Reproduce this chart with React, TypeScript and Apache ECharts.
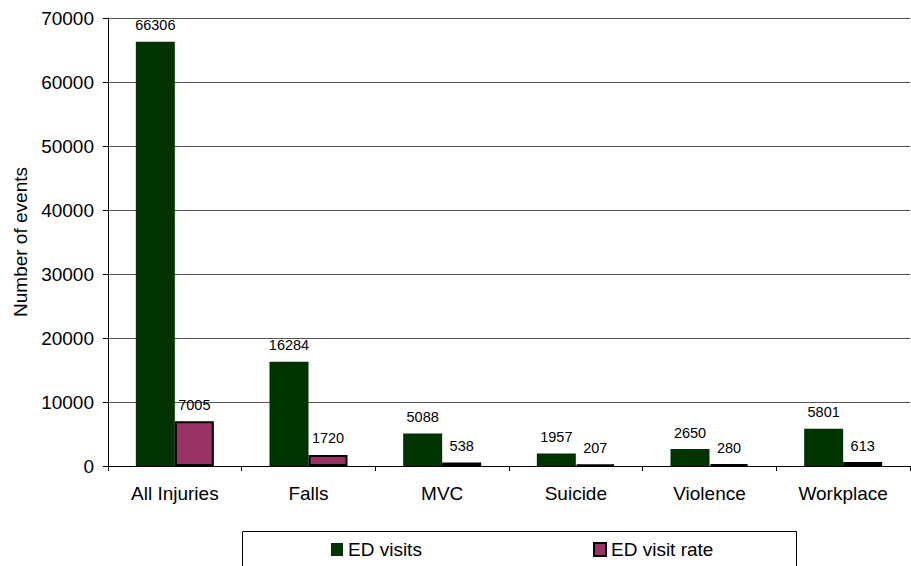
import React, { useEffect, useRef } from "react";
import * as echarts from "echarts";

// Injury categories and their counts
const categories = ["All Injuries", "Falls", "MVC", "Suicide", "Violence", "Workplace"];
const edVisits = [66306, 16284, 5088, 1957, 2650, 5801];
const edVisitRate = [7005, 1720, 538, 207, 280, 613];
const yTicks = { min: 0, max: 70000, interval: 10000 };

const FONT = "'Liberation Sans', Arial, sans-serif";

export default function App() {
  const ref = useRef<HTMLDivElement>(null);

  useEffect(() => {
    if (!ref.current) return;
    const chart = echarts.init(ref.current, null, { renderer: "svg" });
    const labelStyle = {
      show: true,
      position: "top" as const,
      distance: 9,
      color: "#000",
      fontFamily: FONT,
      fontSize: 14.5,
    };
    const legendText = { color: "#000", fontSize: 19, fontFamily: FONT };
    chart.setOption({
      animation: false,
      backgroundColor: "#fff",
      textStyle: { fontFamily: FONT },
      grid: { left: 108, right: 1, top: 18, bottom: 100, containLabel: false },
      xAxis: {
        type: "category",
        data: categories,
        axisLine: { lineStyle: { color: "#000", width: 1 } },
        axisTick: { show: true, length: 5, lineStyle: { color: "#000" } },
        axisLabel: { color: "#000", fontSize: 19, fontFamily: FONT, margin: 18 },
      },
      yAxis: {
        type: "value",
        min: yTicks.min,
        max: yTicks.max,
        interval: yTicks.interval,
        name: "Number of events",
        nameLocation: "middle",
        nameGap: 78,
        nameTextStyle: { color: "#000", fontSize: 19, fontFamily: FONT },
        axisLine: { show: true, lineStyle: { color: "#000", width: 1 } },
        axisTick: { show: true, length: 5, lineStyle: { color: "#000" } },
        axisLabel: {
          color: "#000",
          fontSize: 19,
          fontFamily: FONT,
          margin: 14,
          formatter: (v: number) => String(v),
        },
        splitLine: { show: true, lineStyle: { color: "#555", width: 1 } },
      },
      legend: [
        {
          data: [{ name: "ED visits", icon: "rect" }],
          left: 326,
          top: 535,
          itemWidth: 12,
          itemHeight: 13,
          itemGap: 6,
          textStyle: legendText,
        },
        {
          data: [{ name: "ED visit rate", icon: "rect" }],
          left: 588,
          top: 535,
          itemWidth: 12,
          itemHeight: 13,
          itemGap: 6,
          textStyle: legendText,
        },
      ],
      graphic: [
        {
          type: "rect",
          left: 240,
          top: 529,
          shape: { width: 554, height: 40 },
          style: { fill: "none", stroke: "#000", lineWidth: 1 },
          silent: true,
          z: -1,
        },
      ],
      series: [
        {
          name: "ED visits",
          type: "bar",
          data: edVisits,
          barWidth: 39,
          barGap: "0%",
          itemStyle: { color: "#003300" },
          label: labelStyle,
        },
        {
          name: "ED visit rate",
          type: "bar",
          data: edVisitRate,
          barWidth: 39,
          itemStyle: { color: "#993366", borderColor: "#000", borderWidth: 2 },
          label: labelStyle,
        },
      ],
    });
    return () => chart.dispose();
  }, []);

  return (
    <div
      ref={ref}
      style={{ position: "fixed", left: 0, top: 0, width: 911, height: 566 }}
    />
  );
}
